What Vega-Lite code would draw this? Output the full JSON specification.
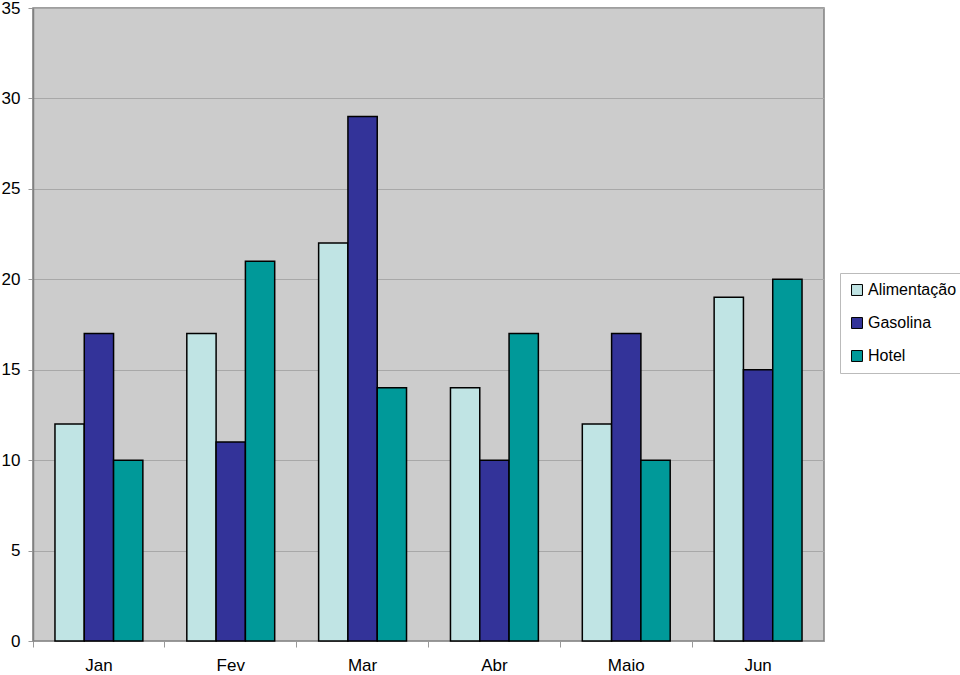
{
  "$schema": "https://vega.github.io/schema/vega-lite/v6.json",
  "width": 791,
  "height": 633,
  "autosize": "none",
  "padding": {"left": 33, "top": 8, "right": 136, "bottom": 34},
  "background": "white",
  "config": {
    "view": {"fill": "#CCCCCC", "stroke": "#808080", "strokeWidth": 1.5},
    "font": "Liberation Sans"
  },
  "data": {
    "values": [
      {"mes": "Jan", "categoria": "Alimentação", "valor": 12},
      {"mes": "Jan", "categoria": "Gasolina", "valor": 17},
      {"mes": "Jan", "categoria": "Hotel", "valor": 10},
      {"mes": "Fev", "categoria": "Alimentação", "valor": 17},
      {"mes": "Fev", "categoria": "Gasolina", "valor": 11},
      {"mes": "Fev", "categoria": "Hotel", "valor": 21},
      {"mes": "Mar", "categoria": "Alimentação", "valor": 22},
      {"mes": "Mar", "categoria": "Gasolina", "valor": 29},
      {"mes": "Mar", "categoria": "Hotel", "valor": 14},
      {"mes": "Abr", "categoria": "Alimentação", "valor": 14},
      {"mes": "Abr", "categoria": "Gasolina", "valor": 10},
      {"mes": "Abr", "categoria": "Hotel", "valor": 17},
      {"mes": "Maio", "categoria": "Alimentação", "valor": 12},
      {"mes": "Maio", "categoria": "Gasolina", "valor": 17},
      {"mes": "Maio", "categoria": "Hotel", "valor": 10},
      {"mes": "Jun", "categoria": "Alimentação", "valor": 19},
      {"mes": "Jun", "categoria": "Gasolina", "valor": 15},
      {"mes": "Jun", "categoria": "Hotel", "valor": 20}
    ]
  },
  "mark": {"type": "bar", "stroke": "black", "strokeWidth": 1.5},
  "encoding": {
    "x": {
      "field": "mes",
      "type": "nominal",
      "sort": ["Jan", "Fev", "Mar", "Abr", "Maio", "Jun"],
      "scale": {"paddingInner": 0, "paddingOuter": 0},
      "axis": {
        "title": null,
        "labelAngle": 0,
        "labelFontSize": 17,
        "labelColor": "black",
        "labelPadding": 10,
        "tickSize": 6,
        "tickColor": "#999999",
        "bandPosition": 0,
        "domainColor": "#999999",
        "grid": false
      }
    },
    "xOffset": {
      "field": "categoria",
      "type": "nominal",
      "scale": {"paddingInner": 0, "paddingOuter": 0.75}
    },
    "y": {
      "field": "valor",
      "type": "quantitative",
      "scale": {"domain": [0, 35], "nice": false},
      "axis": {
        "title": null,
        "values": [0, 5, 10, 15, 20, 25, 30, 35],
        "labelFontSize": 17,
        "labelColor": "black",
        "labelPadding": 8,
        "tickSize": 5,
        "tickColor": "#999999",
        "domainColor": "#808080",
        "domainWidth": 1.5,
        "gridColor": "#A8A8A8",
        "gridWidth": 1
      }
    },
    "fill": {
      "field": "categoria",
      "type": "nominal",
      "scale": {
        "domain": ["Alimentação", "Gasolina", "Hotel"],
        "range": ["#C0E4E4", "#333399", "#009999"]
      },
      "legend": {
        "title": null,
        "orient": "none",
        "legendX": 807,
        "legendY": 265,
        "symbolType": "square",
        "symbolSize": 120,
        "symbolStrokeColor": "black",
        "symbolStrokeWidth": 1,
        "labelFontSize": 16,
        "labelColor": "black",
        "labelOffset": 3,
        "rowPadding": 17,
        "padding": 9,
        "strokeColor": "#BBBBBB",
        "fillColor": "white"
      }
    }
  }
}
